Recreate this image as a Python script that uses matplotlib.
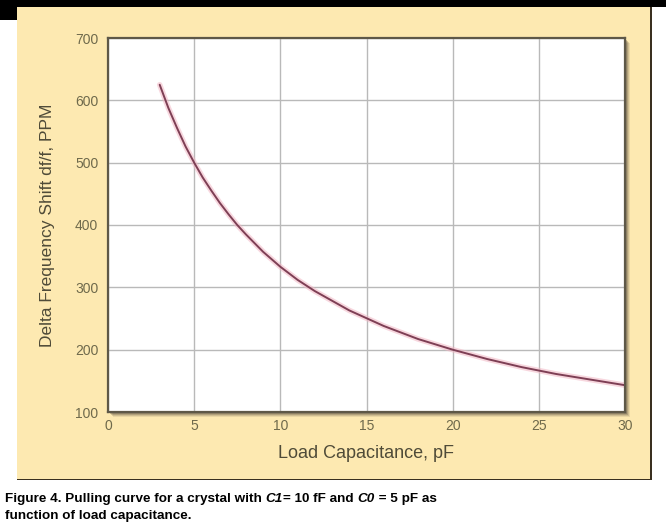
import matplotlib
matplotlib.use("Agg")
import matplotlib.pyplot as plt
from matplotlib.patches import Rectangle

# --- data ---
load_pf = [3, 3.5, 4, 4.5, 5, 5.5, 6, 6.5, 7, 7.5, 8, 9, 10, 11, 12, 14, 16, 18, 20, 22, 24, 26, 28, 30]
shift_ppm = [625, 588, 556, 526, 500, 476, 455, 435, 417, 400, 385, 357, 333, 312, 294,
             263, 238, 217, 200, 185, 172, 161, 152, 143]
x_ticks = [0, 5, 10, 15, 20, 25, 30]
y_ticks = [100, 200, 300, 400, 500, 600, 700]

plt.rcParams["font.family"] = ["Liberation Sans", "DejaVu Sans"]

W, H = 666, 525
fig = plt.figure(figsize=(W / 100, H / 100), dpi=100, facecolor="white")

# background layer in pixel coords (y down)
bg = fig.add_axes([0, 0, 1, 1], zorder=-1)
bg.set_xlim(0, W)
bg.set_ylim(H, 0)
bg.axis("off")

def box(x0, y0, x1, y1, **kw):
    bg.add_patch(Rectangle((x0, y0), x1 - x0, y1 - y0, edgecolor="none", **kw))

box(0, 0, W, 7, facecolor="black")
box(0, 0, 17, 20, facecolor="black")
box(17, 7, 651, 479, facecolor="#fde9b1")
box(650, 7, 652, 480, facecolor="#3a3020")
box(17, 478.5, 652, 480, facecolor="#3a3020")

left, right, top, bottom = 108, 625, 38, 412
# drop shadow
for off, a in [(5, 0.12), (4, 0.18), (3, 0.25), (2, 0.35)]:
    box(left + off, top + off, right + off, bottom + off, facecolor="#5a5040", alpha=a)

ax = fig.add_axes([left / W, 1 - bottom / H, (right - left) / W, (bottom - top) / H], zorder=1)
ax.set_facecolor("white")
ax.plot(load_pf, shift_ppm, color="#f2b6c4", lw=4, alpha=0.55, solid_capstyle="round")
ax.plot(load_pf, shift_ppm, color="#7e3f55", lw=1.4, solid_capstyle="round")

ax.set_xlim(0, 30)
ax.set_ylim(100, 700)
ax.set_xticks(x_ticks)
ax.set_yticks(y_ticks)
ax.grid(True, color="#b9b9b9", lw=1)
ax.set_axisbelow(True)
ax.tick_params(length=0, labelsize=10, colors="#6f6a4c", pad=5)
ax.tick_params(axis="y", pad=7)
for s in ax.spines.values():
    s.set_color("#5e5848")
    s.set_linewidth(1.6)

ax.set_xlabel("Load Capacitance, pF", fontsize=13, color="#4f4b38", labelpad=9)
ax.set_ylabel("Delta Frequency Shift df/f, PPM", fontsize=12.5, color="#4f4b38", labelpad=14)

# caption with italic symbols, pieces placed side by side
cap = dict(fontsize=9.7, fontweight="bold", color="black")
pieces = [("Figure 4. Pulling curve for a crystal with ", "normal"), ("C1", "italic"),
          ("= 10 fF and ", "normal"), ("C0", "italic"), (" = 5 pF as", "normal")]
fig.canvas.draw()
r = fig.canvas.get_renderer()
x0 = 5 / W
for txt, st in pieces:
    t = fig.text(x0, 1 - 502 / H, txt, va="baseline", style=st, **cap)
    x0 = t.get_window_extent(r).x1 / W
fig.text(5 / W, 1 - 519 / H, "function of load capacitance.", va="baseline", **cap)

fig.savefig("out.png", dpi=100, facecolor="white")
